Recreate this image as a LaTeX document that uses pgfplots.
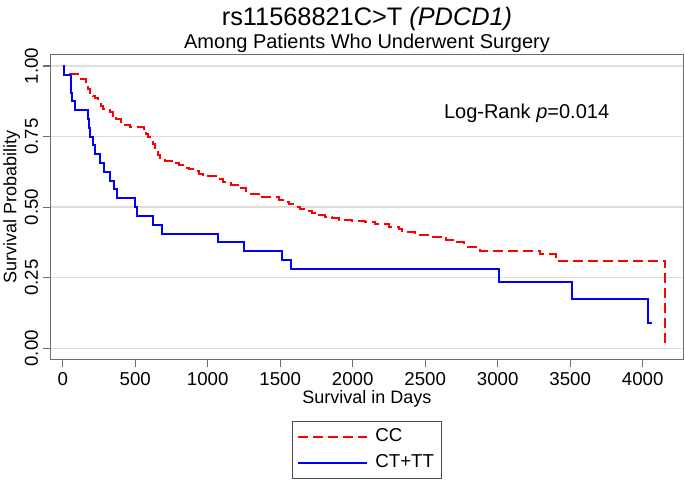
\documentclass[border=0pt]{standalone}
\usepackage{fontspec}
\setmainfont{Liberation Sans}
\usepackage{pgfplots}
\pgfplotsset{compat=1.18}

\definecolor{kmred}{RGB}{255,0,0}
\definecolor{kmblue}{RGB}{0,0,255}
\definecolor{gridgray}{RGB}{222,222,222}
\definecolor{axgray}{RGB}{110,110,110}

\begin{document}
\begin{tikzpicture}
\useasboundingbox (0,0) rectangle (513.75pt,360pt);

\begin{axis}[
    at={(38.025pt,90.525pt)}, anchor=south west,
    scale only axis, width=474.45pt, height=228.75pt,
    xmin=-83, xmax=4280, ymin=-0.039, ymax=1.0414,
    xtick={0,500,...,4000},
    ytick={0,0.25,0.5,0.75,1},
    tick align=outside, xtick pos=bottom, ytick pos=left,
    major tick length=6pt,
    tick style={axgray, line width=0.8pt},
    axis line style={axgray, line width=0.9pt},
    ymajorgrids, grid style={gridgray, line width=1.1pt},
    /pgf/number format/assume math mode=true,
    /pgf/number format/1000 sep={},
    tick label style={font=\fontsize{14}{16}\selectfont},
    yticklabel style={rotate=90, anchor=south,
        /pgf/number format/.cd, fixed, fixed zerofill, precision=2},
    every axis x label/.style={at={([yshift=-33.5pt]axis description cs:0.5,0)}, anchor=base},
    every axis y label/.style={at={([xshift=-25.8pt]axis description cs:0,0.5)}, rotate=90, anchor=base},
    label style={font=\fontsize{13.5}{15}\selectfont},
    xlabel={Survival in Days},
    ylabel={Survival Probability},
    legend style={at={(0.5,0)}, anchor=north, yshift=-46pt,
        draw=black!70, line width=0.7pt, inner sep=3.5pt,
        font=\fontsize{14}{16}\selectfont,
        nodes={inner sep=2pt, text height=10pt, text depth=3pt},
        row sep=2.2pt,
        /tikz/every odd column/.append style={column sep=3.7pt}},
    legend cell align=left,
    legend image code/.code={\draw[#1, line width=1.3pt] (0pt,0pt) -- (51.5pt,0pt);},
    clip=false,
]
\addplot[kmred, line width=1.5pt, dash pattern=on 7.5pt off 3.75pt, const plot] coordinates {
(0,1) (10,0.97) (125,0.954) (160,0.93) (172,0.918) (185,0.906) (208,0.893)
(225,0.885) (245,0.877) (265,0.86) (280,0.848) (323,0.836) (345,0.824)
(369,0.812) (403,0.8) (430,0.792) (461,0.784) (560,0.772) (576,0.76)
(590,0.748) (605,0.736) (622,0.722) (635,0.71) (645,0.697) (658,0.685)
(668,0.675) (702,0.663) (760,0.655) (800,0.648) (829,0.64) (870,0.634)
(910,0.627) (940,0.618) (967,0.609) (1070,0.598) (1105,0.588) (1163,0.578)
(1232,0.568) (1266,0.556) (1300,0.546) (1377,0.535) (1491,0.527) (1530,0.518)
(1560,0.51) (1600,0.502) (1635,0.495) (1680,0.487) (1720,0.479) (1770,0.472)
(1812,0.466) (1860,0.46) (1904,0.456) (1995,0.452) (2087,0.448) (2156,0.439)
(2247,0.43) (2316,0.424) (2339,0.412) (2431,0.403) (2522,0.394) (2645,0.385)
(2700,0.375) (2770,0.358) (2878,0.346) (3292,0.333) (3402,0.309) (4156,0.309)
(4156,0)
};
\addlegendentry{CC}
\addplot[kmblue, line width=1.5pt, const plot] coordinates {
(0,1) (7,0.969) (58,0.906) (67,0.875) (87,0.844) (174,0.813) (183,0.781)
(187,0.75) (208,0.719) (225,0.688) (259,0.656) (284,0.625) (323,0.594)
(353,0.563) (374,0.531) (496,0.5) (509,0.469) (621,0.438) (685,0.406)
(1070,0.375) (1250,0.344) (1515,0.3125) (1572,0.281) (3007,0.234)
(3510,0.175) (4039,0.088) (4062,0.088)
};
\addlegendentry{CT+TT}
\node[font=\fontsize{15}{17}\selectfont] at (axis cs:3199,0.834) {Log-Rank \textit{p}=0.014};
\end{axis}

\node[anchor=base, font=\fontsize{19}{22}\selectfont] at (275.25pt,341.25pt) {rs11568821C>T \textit{(PDCD1)}};
\node[anchor=base, font=\fontsize{15}{17}\selectfont] at (275.25pt,323.6pt) {Among Patients Who Underwent Surgery};
\end{tikzpicture}
\end{document}
